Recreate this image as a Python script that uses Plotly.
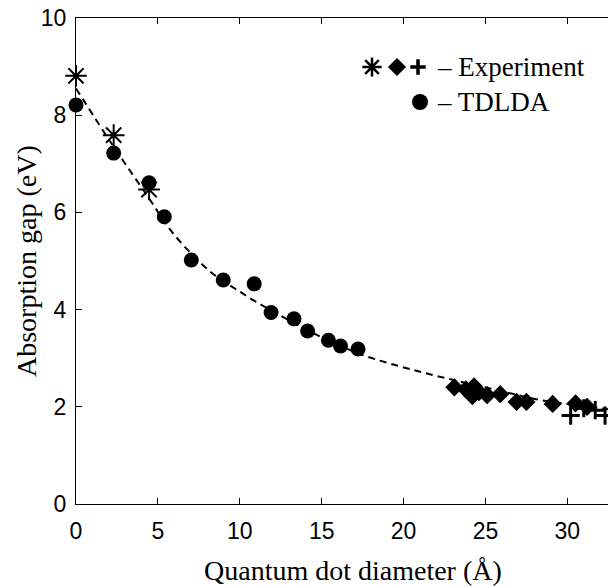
import plotly.graph_objects as go

# ---- data ----
star_x = [0.0, 2.3, 4.46]
star_y = [8.81, 7.59, 6.47]

diamond_x = [23.1, 23.8, 24.3, 24.6, 24.2, 25.1, 25.9, 26.9, 27.5, 29.1, 30.5, 31.2]
diamond_y = [2.40, 2.36, 2.42, 2.30, 2.22, 2.24, 2.26, 2.10, 2.10, 2.06, 2.07, 2.00]

plus_x = [30.2, 31.0, 31.7, 32.3]
plus_y = [1.82, 1.97, 1.93, 1.82]

tdlda_x = [0.0, 2.3, 4.46, 5.39, 7.04, 8.99, 10.88, 11.91, 13.31, 14.14, 15.41, 16.15, 17.22]
tdlda_y = [8.21, 7.22, 6.61, 5.91, 5.02, 4.61, 4.53, 3.94, 3.81, 3.56, 3.37, 3.25, 3.19]

fit_x = [0.0, 2.3, 4.4, 5.9, 8.2, 10.0, 11.0, 14.7, 17.3, 19.8, 22.2, 26.5, 28.0, 32.5]
fit_y = [8.55, 7.35, 6.32, 5.58, 4.78, 4.37, 4.16, 3.48, 3.09, 2.83, 2.62, 2.28, 2.16, 1.95]

x_ticks = [0, 5, 10, 15, 20, 25, 30]
y_ticks = [0, 2, 4, 6, 8, 10]

x_title = "Quantum dot diameter (Å)"
y_title = "Absorption gap (eV)"
legend_labels = ["– Experiment", "– TDLDA"]

W, H = 608, 586
L, R, T, B = 76, 0, 18, 82
SERIF = "Liberation Serif, Times New Roman, serif"
SANS = "Liberation Sans, Arial, sans-serif"

fig = go.Figure()

fig.add_trace(go.Scatter(x=fit_x, y=fit_y, mode="lines", line_shape="spline",
                         line=dict(color="black", width=2, dash="7px,5px"),
                         showlegend=False, hoverinfo="skip"))
fig.add_trace(go.Scatter(x=tdlda_x, y=tdlda_y, mode="markers", cliponaxis=False,
                         marker=dict(symbol="circle", size=15, color="black"),
                         showlegend=False))
fig.add_trace(go.Scatter(x=star_x, y=star_y, mode="markers", cliponaxis=False,
                         marker=dict(symbol="asterisk-open", size=18, color="black",
                                     line=dict(color="black", width=2)),
                         showlegend=False))
fig.add_trace(go.Scatter(x=diamond_x, y=diamond_y, mode="markers", cliponaxis=False,
                         marker=dict(symbol="diamond", size=14, color="black",
                                     line=dict(width=0)),
                         showlegend=False))
fig.add_trace(go.Scatter(x=plus_x, y=plus_y, mode="markers", cliponaxis=False,
                         marker=dict(symbol="cross-thin-open", size=13, color="black",
                                     line=dict(color="black", width=3)),
                         showlegend=False))

# ---- custom legend (overlay axis in 0..1 units of the plot area) ----
def px_x(p):
    return (p - L) / (W - L - R)

def px_y(p):
    return (H - B - p) / (H - T - B)

row1, row2 = px_y(67), px_y(102)
leg_items = [
    ("asterisk-open", 16, px_x(372), row1, dict(color="black", width=2.5)),
    ("diamond", 14, px_x(397), row1, dict(width=0)),
    ("cross-thin-open", 11, px_x(418), row1, dict(color="black", width=3.5)),
    ("circle", 16, px_x(420), row2, dict(width=0)),
]
for sym, sz, lx, ly, ln in leg_items:
    fig.add_trace(go.Scatter(x=[lx], y=[ly], xaxis="x2", yaxis="y2", mode="markers",
                             cliponaxis=False,
                             marker=dict(symbol=sym, size=sz, color="black", line=ln),
                             showlegend=False, hoverinfo="skip"))

annotations = [
    dict(text=legend_labels[0], x=px_x(435), y=row1, xref="paper", yref="paper",
         xanchor="left", yanchor="middle", showarrow=False,
         font=dict(family=SERIF, size=27, color="black")),
    dict(text=legend_labels[1], x=px_x(435), y=row2, xref="paper", yref="paper",
         xanchor="left", yanchor="middle", showarrow=False,
         font=dict(family=SERIF, size=27, color="black")),
    dict(text=x_title, x=px_x(353), y=px_y(570), xref="paper", yref="paper",
         xanchor="center", yanchor="middle", showarrow=False,
         font=dict(family=SERIF, size=28, color="black")),
    dict(text=y_title, x=px_x(26), y=0.5, xref="paper", yref="paper", textangle=-90,
         xanchor="center", yanchor="middle", showarrow=False,
         font=dict(family=SERIF, size=28, color="black")),
]

fig.update_layout(
    width=W, height=H,
    margin=dict(l=L, r=R, t=T, b=B, pad=0),
    paper_bgcolor="white", plot_bgcolor="white",
    showlegend=False,
    annotations=annotations,
    xaxis=dict(range=[0, 32.48], tickvals=x_ticks, ticks="inside", ticklen=6,
               tickwidth=1, tickcolor="black", showline=True, linecolor="black",
               linewidth=1, mirror="ticks", showgrid=False, zeroline=False,
               tickfont=dict(family=SANS, size=23, color="black"),
               ticklabelstandoff=6),
    yaxis=dict(range=[0, 10], tickvals=y_ticks, ticks="inside", ticklen=6,
               tickwidth=1, tickcolor="black", showline=True, linecolor="black",
               linewidth=1, mirror=False, showgrid=False, zeroline=False,
               tickfont=dict(family=SANS, size=23, color="black"),
               ticklabelstandoff=4),
    xaxis2=dict(range=[0, 1], overlaying="x", visible=False),
    yaxis2=dict(range=[0, 1], overlaying="y", visible=False),
)

fig.write_html("out.html")
